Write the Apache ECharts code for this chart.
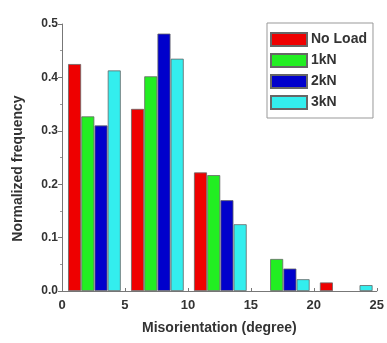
<!DOCTYPE html>
<html>
<head>
<meta charset="utf-8">
<script src="https://cdn.jsdelivr.net/npm/echarts@6/dist/echarts.min.js"></script>
<style>
  html, body { margin: 0; padding: 0; background: #fff; }
  #chart { width: 387px; height: 343px; }
</style>
</head>
<body>
<div id="chart"></div>
<script>
// bins of 5 degrees, four loads per bin
const binStarts = [0, 5, 10, 15, 20]
const seriesNames = ['No Load', '1kN', '2kN', '3kN']
const noLoad = [0.425, 0.341, 0.222, 0, 0.016]
const load1 = [0.327, 0.402, 0.217, 0.060, 0]
const load2 = [0.310, 0.482, 0.170, 0.042, 0]
const load3 = [0.413, 0.435, 0.125, 0.022, 0.011]
const xTicks = [0, 5, 10, 15, 20, 25]
const yTicks = [0.0, 0.1, 0.2, 0.3, 0.4, 0.5]

const colors = ['#ee0000', '#22ee22', '#0000cc', '#33eeee']
const values = [noLoad, load1, load2, load3]

var chart = echarts.init(document.getElementById('chart'))

const getSeries = () => {
  return values.map((vals, i) => {
    return {
      name: seriesNames[i],
      type: 'bar',
      barWidth: 13,
      barGap: '-100%',
      itemStyle: {
        color: colors[i],
        borderColor: '#666',
        borderWidth: 0.8
      },
      data: vals.map((v, k) => [binStarts[k] + 1 + i * 1.05, v === 0 ? null : v])
    }
  })
}

const font = 'Liberation Sans, Arial, sans-serif'

let option = {
  animation: false,
  backgroundColor: '#fff',
  grid: {
    left: 62,
    right: 3,
    top: 24,
    bottom: 52
  },
  legend: {
    orient: 'vertical',
    left: 267,
    top: 23,
    icon: 'rect',
    itemWidth: 36,
    itemHeight: 13,
    itemGap: 6,
    padding: [9, 6, 8, 3],
    borderColor: '#999',
    borderWidth: 1,
    selectedMode: false,
    textStyle: {
      fontFamily: font,
      fontWeight: 'bold',
      fontSize: 14,
      color: '#333',
      padding: [0, 0, 0, -1]
    }
  },
  xAxis: {
    type: 'value',
    min: 0,
    max: 25,
    interval: 5,
    name: 'Misorientation (degree)',
    nameLocation: 'middle',
    nameGap: 30,
    nameTextStyle: {
      fontFamily: font,
      fontWeight: 'bold',
      fontSize: 14,
      color: '#333'
    },
    axisLine: { lineStyle: { color: '#777', width: 1 } },
    axisTick: { show: true, inside: true, length: 3, lineStyle: { color: '#777' } },
    axisLabel: {
      fontFamily: font,
      fontWeight: 'bold',
      fontSize: 13,
      color: '#333',
      margin: 8,
      customValues: xTicks
    },
    splitLine: { show: false }
  },
  yAxis: {
    type: 'value',
    min: 0,
    max: 0.5,
    interval: 0.1,
    name: 'Normalized frequency',
    nameLocation: 'middle',
    nameGap: 37,
    nameTextStyle: {
      fontFamily: font,
      fontWeight: 'bold',
      fontSize: 14,
      color: '#333',
      padding: [0, 22, 0, 0]
    },
    axisLine: { show: true, lineStyle: { color: '#777', width: 1 } },
    axisTick: { show: true, length: 4, lineStyle: { color: '#777' } },
    minorTick: { show: true, splitNumber: 2, length: 2, lineStyle: { color: '#999' } },
    axisLabel: {
      fontFamily: font,
      fontWeight: 'bold',
      fontSize: 12,
      color: '#333',
      margin: 4,
      customValues: yTicks,
      formatter: v => v.toFixed(1)
    },
    splitLine: { show: false }
  },
  series: getSeries()
}

chart.setOption(option)
</script>
</body>
</html>
